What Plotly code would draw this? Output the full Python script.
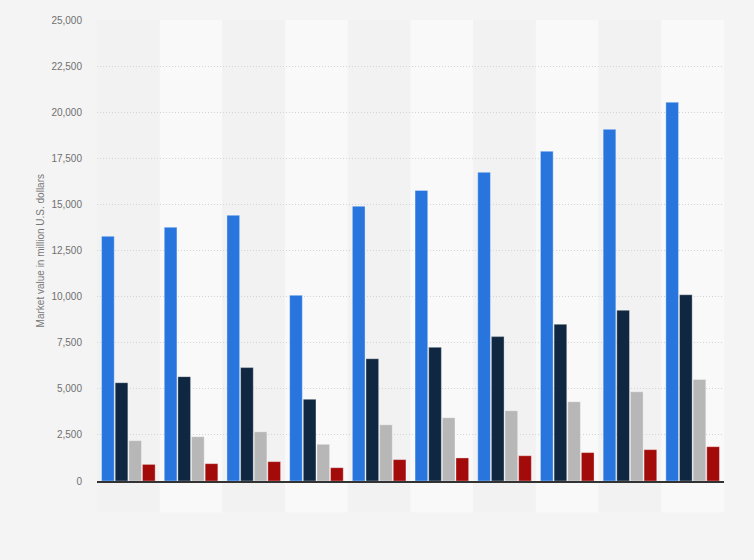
import plotly.graph_objects as go

categories = ["1", "2", "3", "4", "5", "6", "7", "8", "9", "10"]
series_names = ["Series 1", "Series 2", "Series 3", "Series 4"]
series_1 = [13270, 13760, 14410, 10070, 14900, 15760, 16740, 17880, 19070, 20540]
series_2 = [5330, 5660, 6150, 4430, 6630, 7250, 7830, 8500, 9260, 10100]
series_3 = [2190, 2400, 2670, 1990, 3050, 3430, 3810, 4300, 4840, 5510]
series_4 = [900, 940, 1050, 720, 1160, 1250, 1370, 1540, 1700, 1860]
y_ticks = [0, 2500, 5000, 7500, 10000, 12500, 15000, 17500, 20000, 22500, 25000]
y_title = "Market value in million U.S. dollars"

colors = ["#2876dd", "#0f2740", "#b7b7b7", "#a30a0a"]
values = [series_1, series_2, series_3, series_4]

fig = go.Figure()
for name, vals, col in zip(series_names, values, colors):
    fig.add_trace(go.Bar(
        x=categories, y=vals, name=name,
        marker=dict(color=col, line=dict(color="rgba(255,255,255,0.35)", width=1)),
        hoverinfo="y",
    ))

shapes = []
for i in range(len(categories)):
    shapes.append(dict(
        type="rect", xref="x", yref="paper",
        x0=i - 0.5, x1=i + 0.5, y0=-0.068, y1=1,
        fillcolor="#f9f9f9" if i % 2 == 1 else "#f2f2f2",
        line=dict(width=0), layer="below",
    ))

fig.update_layout(
    width=754, height=560,
    margin=dict(l=97, r=30, t=20, b=79),
    paper_bgcolor="#f4f4f4", plot_bgcolor="rgba(0,0,0,0)",
    barmode="group", bargap=0.13, bargroupgap=0.07,
    showlegend=False,
    font=dict(family="Liberation Sans, Arial, sans-serif", size=10, color="#666666"),
    shapes=shapes,
    annotations=[dict(
        text=y_title, xref="paper", yref="paper", x=-0.0895, y=0.5,
        xanchor="center", yanchor="middle", textangle=-90, showarrow=False,
        font=dict(size=10, color="#777777"),
    )],
)
fig.update_xaxes(
    showticklabels=False, showgrid=False, ticks="",
    showline=True, linecolor="#333333", linewidth=1.5,
    range=[-0.5, len(categories) - 0.5],
)
fig.update_yaxes(
    range=[0, 25000], tickvals=y_ticks, tickformat=",",
    showgrid=True, gridcolor="#d4d4d4", griddash="1px,2px", gridwidth=1,
    zeroline=False, showline=False, ticks="", ticklabelstandoff=14,
    tickfont=dict(size=10, color="#707070"),
)

fig.write_html(
    "out.html",
    config={"displayModeBar": False},
    post_script="document.body.style.margin='0';document.body.style.background='#f4f4f4';",
)
